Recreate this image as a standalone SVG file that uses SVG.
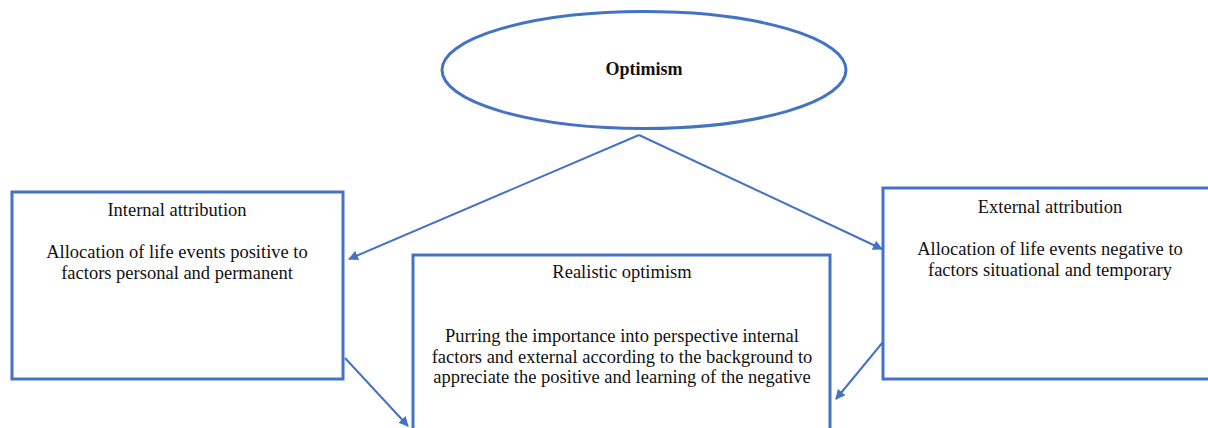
<svg xmlns="http://www.w3.org/2000/svg" width="1208" height="428" viewBox="0 0 1208 428">
<style>
.box{fill:#fff;stroke:#4472C4;stroke-width:3}
.t{font-family:"Liberation Serif","DejaVu Serif",serif;font-size:18.5px;fill:#111;text-anchor:middle}
.b{font-weight:bold;font-size:18px}
.c{stroke:#4472C4;stroke-width:2;fill:none}
</style>
<defs>
<marker id="ah" viewBox="0 0 10 10" refX="9" refY="5" markerWidth="5" markerHeight="5" orient="auto" markerUnits="strokeWidth">
<path d="M0,0 L10,5 L0,10 z" fill="#4472C4"/>
</marker>
</defs>
<rect width="1208" height="428" fill="#fff"/>
<g id="optimism">
<ellipse cx="644" cy="70" rx="202" ry="58.5" class="box"/>
<text x="644" y="75" class="t b">Optimism</text>
</g>
<g id="internal">
<rect x="12" y="192" width="331" height="187" class="box"/>
<text x="177" y="216" class="t">Internal attribution</text>
<text x="177" y="258" class="t">Allocation of life events positive to</text>
<text x="177" y="279" class="t">factors personal and permanent</text>
</g>
<g id="external">
<rect x="883" y="188" width="330" height="191" class="box"/>
<text x="1050" y="213" class="t">External attribution</text>
<text x="1050" y="255" class="t">Allocation of life events negative to</text>
<text x="1050" y="276" class="t">factors situational and temporary</text>
</g>
<g id="realistic">
<rect x="413" y="255" width="417" height="180" class="box"/>
<text x="622" y="278" class="t">Realistic optimism</text>
<text x="622" y="342" class="t">Purring the importance into perspective internal</text>
<text x="622" y="363" class="t">factors and external according to the background to</text>
<text x="622" y="383" class="t">appreciate the positive and learning of the negative</text>
</g>
<g id="connectors">
<path d="M639,135 L349,259" class="c" marker-end="url(#ah)"/>
<path d="M639,135 L882,249" class="c" marker-end="url(#ah)"/>
<path d="M345,358 L408,426" class="c" marker-end="url(#ah)"/>
<path d="M883,342 L836,399" class="c" stroke="#2E75B6" marker-end="url(#ah)"/>
</g>
</svg>
